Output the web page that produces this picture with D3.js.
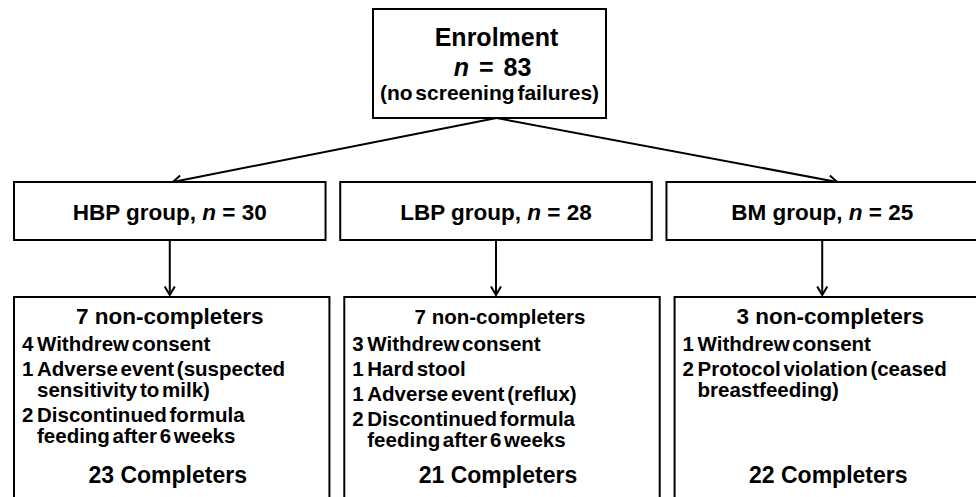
<!DOCTYPE html>
<html lang="en">
<head>
<meta charset="utf-8">
<title>Study flow</title>
<script src="https://cdnjs.cloudflare.com/ajax/libs/d3/7.8.5/d3.min.js"></script>
<style>
  html, body { margin: 0; padding: 0; background: #fff; }
  svg { display: block; }
  text { font-family: "Liberation Sans", Arial, sans-serif; font-weight: bold; fill: #000; }
</style>
</head>
<body>
<div id="viz"></div>
<script>
// chart data
const enrolN = 83;
const enrolNote = "(no screening failures)";
const groups = ["HBP", "LBP", "BM"];
const groupN = [30, 28, 25];
const nonCompleters = [7, 7, 3];
const reasonCounts = [[4, 1, 2], [3, 1, 1, 2], [1, 2]];
const reasonLines = [
  [["Withdrew consent"], ["Adverse event (suspected", "sensitivity to milk)"], ["Discontinued formula", "feeding after 6 weeks"]],
  [["Withdrew consent"], ["Hard stool"], ["Adverse event (reflux)"], ["Discontinued formula", "feeding after 6 weeks"]],
  [["Withdrew consent"], ["Protocol violation (ceased", "breastfeeding)"]]
];
const completers = [23, 21, 22];

const width = 976;
const height = 497;

const svg = d3.select("#viz").append("svg")
  .attr("width", width)
  .attr("height", height);

// arrow head
svg.append("defs").append("marker")
  .attr("id", "head")
  .attr("viewBox", "0 0 10 12")
  .attr("refX", 9.5).attr("refY", 6)
  .attr("markerWidth", 10).attr("markerHeight", 12)
  .attr("markerUnits", "userSpaceOnUse")
  .attr("orient", "auto")
  .append("path")
    .attr("d", "M1,1 L9.5,6 L1,11")
    .attr("fill", "none")
    .attr("stroke", "#000")
    .attr("stroke-width", 2);

// columns
const x = d3.scaleBand().domain(groups).range([14, 978]).paddingInner(0.045);
const xb = d3.scaleBand().domain(groups).range([14, 990]).paddingInner(0.045);
const cx = g => x(g) + x.bandwidth() / 2;

const groupTop = 182, groupBottom = 240;
const outTop = 297, outBottom = 520;

// enrolment box
const enrol = { left: 373, right: 606, top: 9, bottom: 118 };
const enrolCx = (enrol.left + enrol.right) / 2;
svg.append("rect")
  .attr("x", enrol.left).attr("y", enrol.top)
  .attr("width", enrol.right - enrol.left).attr("height", enrol.bottom - enrol.top)
  .attr("fill", "#fff").attr("stroke", "#000").attr("stroke-width", 2);

svg.append("text")
  .attr("x", enrolCx + 7).attr("y", 46)
  .attr("text-anchor", "middle")
  .attr("font-size", 25)
  .text("Enrolment");

const nt = svg.append("text")
  .attr("x", enrolCx + 3).attr("y", 76)
  .attr("text-anchor", "middle")
  .attr("font-size", 25)
  .attr("word-spacing", 3);
nt.append("tspan").attr("font-style", "italic").text("n");
nt.append("tspan").text(" = " + enrolN);

svg.append("text")
  .attr("x", enrolCx).attr("y", 100)
  .attr("text-anchor", "middle")
  .attr("font-size", 21)
  .attr("word-spacing", -3)
  .text(enrolNote);

// arrows from enrolment to groups
const tipOffset = [3, 0, 15];
svg.append("g").selectAll("line")
  .data(groups.filter(g => g !== "LBP"))
  .join("line")
    .attr("x1", enrolCx + 7).attr("y1", enrol.bottom)
    .attr("x2", g => cx(g) + tipOffset[groups.indexOf(g)])
    .attr("y2", groupTop)
    .attr("stroke", "#000").attr("stroke-width", 2)
    .attr("marker-end", "url(#head)");

// group boxes
const gb = svg.append("g").selectAll("g")
  .data(groups)
  .join("g");

gb.append("rect")
  .attr("x", g => x(g)).attr("y", groupTop)
  .attr("width", x.bandwidth()).attr("height", groupBottom - groupTop)
  .attr("fill", "#fff").attr("stroke", "#000").attr("stroke-width", 2);

const gt = gb.append("text")
  .attr("x", g => cx(g)).attr("y", 220)
  .attr("text-anchor", "middle")
  .attr("font-size", 22.5);
gt.append("tspan").text(g => g + " group, ");
gt.append("tspan").attr("font-style", "italic").text("n");
gt.append("tspan").text((g, i) => " = " + groupN[i]);

// down arrows
gb.append("line")
  .attr("x1", g => cx(g)).attr("x2", g => cx(g))
  .attr("y1", groupBottom).attr("y2", outTop - 2)
  .attr("stroke", "#000").attr("stroke-width", 2)
  .attr("marker-end", "url(#head)");

// outcome boxes
const ob = svg.append("g").selectAll("g")
  .data(groups)
  .join("g");

ob.append("rect")
  .attr("x", g => xb(g)).attr("y", outTop)
  .attr("width", xb.bandwidth()).attr("height", outBottom - outTop)
  .attr("fill", "#fff").attr("stroke", "#000").attr("stroke-width", 2);

const headSize = [22.5, 20.5, 22.5];
ob.append("text")
  .attr("x", g => xb(g) + xb.bandwidth() / 2 - 2)
  .attr("y", outTop + 27)
  .attr("text-anchor", "middle")
  .attr("font-size", (g, i) => headSize[i])
  .text((g, i) => nonCompleters[i] + " non-completers");

ob.append("text")
  .attr("x", g => xb(g) + xb.bandwidth() / 2 - 4)
  .attr("y", outTop + 186)
  .attr("text-anchor", "middle")
  .attr("font-size", 23)
  .text((g, i) => completers[i] + " Completers");

// reasons
const itemStep = 25, wrapStep = 21;
ob.each(function (g, i) {
  const left = xb(g) + 8;
  let y = outTop + 54;
  const t = d3.select(this).append("g");
  reasonCounts[i].forEach((c, k) => {
    t.append("text")
      .attr("x", left).attr("y", y)
      .attr("font-size", 20.5)
      .text(c);
    reasonLines[i][k].forEach((line, j) => {
      t.append("text")
        .attr("x", left + 15).attr("y", y + j * wrapStep)
        .attr("font-size", 20.5)
        .attr("word-spacing", -3)
        .text(line);
    });
    y += itemStep + (reasonLines[i][k].length - 1) * wrapStep;
  });
});
</script>
</body>
</html>
